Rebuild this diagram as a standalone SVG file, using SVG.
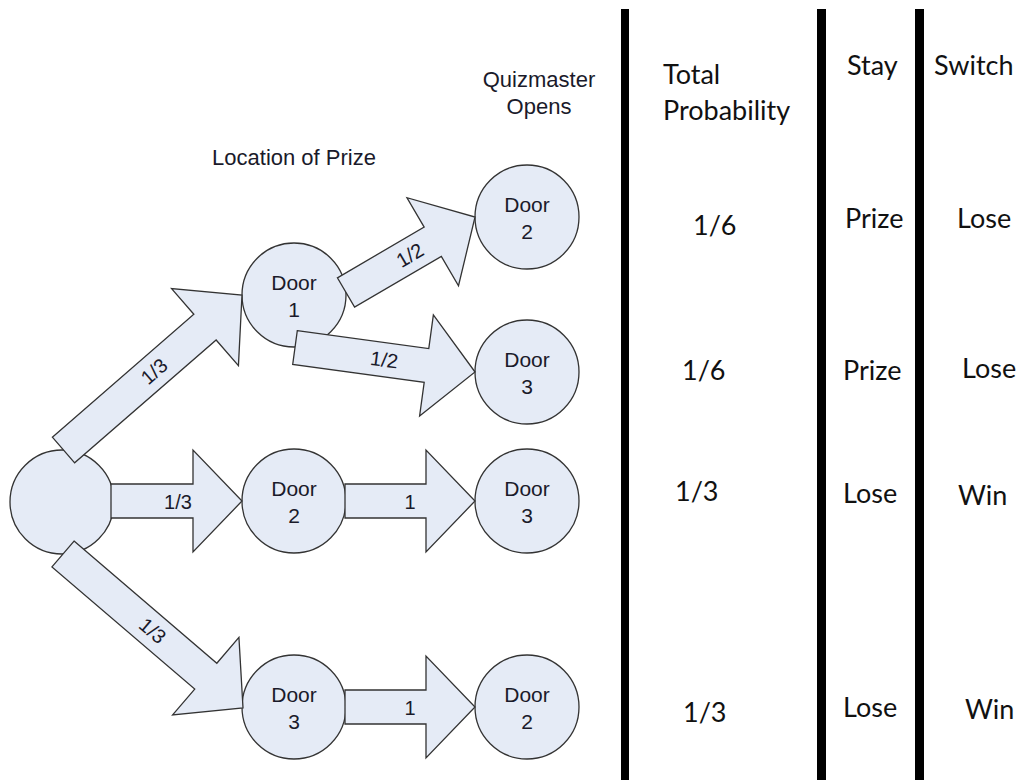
<svg xmlns="http://www.w3.org/2000/svg" width="1019" height="780" viewBox="0 0 1019 780">
<style>
.node{fill:#e5ebf6;stroke:#333;stroke-width:1.3}
.arrow{fill:#e5ebf6;stroke:#333;stroke-width:1.3;stroke-linejoin:miter}
.lbl{font-family:"Liberation Sans",Arial,sans-serif;font-size:21px;fill:#1a1a2a;text-anchor:middle}
.hdr{font-family:"Liberation Sans",Arial,sans-serif;font-size:22px;fill:#1a1a2a;text-anchor:middle}
.elbl{font-family:"Liberation Sans",Arial,sans-serif;font-size:20px;fill:#1a1a2a;text-anchor:middle}
.tbl{font-family:Lato,"Open Sans",sans-serif;font-size:27px;fill:#111}
.bar{fill:#000}
</style>
<rect width="1019" height="780" fill="#fff"/>
<g id="headers">
<text class="hdr" x="294" y="165">Location of Prize</text>
<text class="hdr" x="539" y="87">Quizmaster</text>
<text class="hdr" x="539" y="114">Opens</text>
</g>
<g id="node-start"><circle class="node" cx="62" cy="502" r="52"/></g>
<g id="node-l-door1"><circle class="node" cx="294" cy="295" r="52"/><text class="lbl" x="294" y="290">Door</text><text class="lbl" x="294" y="317">1</text></g>
<g id="node-l-door2"><circle class="node" cx="294" cy="501" r="52"/><text class="lbl" x="294" y="496">Door</text><text class="lbl" x="294" y="523">2</text></g>
<g id="node-l-door3"><circle class="node" cx="294" cy="707" r="52"/><text class="lbl" x="294" y="702">Door</text><text class="lbl" x="294" y="729">3</text></g>
<g id="node-r-door2a"><circle class="node" cx="527" cy="217" r="52"/><text class="lbl" x="527" y="212">Door</text><text class="lbl" x="527" y="239">2</text></g>
<g id="node-r-door3a"><circle class="node" cx="527" cy="372" r="52"/><text class="lbl" x="527" y="367">Door</text><text class="lbl" x="527" y="394">3</text></g>
<g id="node-r-door3b"><circle class="node" cx="527" cy="501" r="52"/><text class="lbl" x="527" y="496">Door</text><text class="lbl" x="527" y="523">3</text></g>
<g id="node-r-door2b"><circle class="node" cx="527" cy="707" r="52"/><text class="lbl" x="527" y="702">Door</text><text class="lbl" x="527" y="729">2</text></g>
<g id="connectors">
<g transform="translate(63.5,450) rotate(-40.97)"><polygon class="arrow" points="0,-17 187.4,-17 187.4,-51 236.4,0 187.4,51 187.4,17 0,17"/><text class="elbl" x="120" y="7">1/3</text></g>
<g transform="translate(111,501)"><polygon class="arrow" points="0,-17 82,-17 82,-51 131,0 82,51 82,17 0,17"/><text class="elbl" x="67" y="8">1/3</text></g>
<g transform="translate(345,501)"><polygon class="arrow" points="0,-17 81,-17 81,-51 130,0 81,51 81,17 0,17"/><text class="elbl" x="65" y="8">1</text></g>
<g transform="translate(345,707)"><polygon class="arrow" points="0,-17 81,-17 81,-51 130,0 81,51 81,17 0,17"/><text class="elbl" x="65" y="8">1</text></g>
<g transform="translate(63,554) rotate(40.55)"><polygon class="arrow" points="0,-17 187.9,-17 187.9,-51 236.9,0 187.9,51 187.9,17 0,17"/><text class="elbl" x="118" y="7">1/3</text></g>
<g transform="translate(346,292.5) rotate(-30.33)"><polygon class="arrow" points="0,-17 100.5,-17 100.5,-51 149.5,0 100.5,51 100.5,17 0,17"/><text class="elbl" x="74" y="7">1/2</text></g>
<g transform="translate(295,347.5) rotate(7.75)"><polygon class="arrow" points="0,-17 132.7,-17 132.7,-51 181.7,0 132.7,51 132.7,17 0,17"/><text class="elbl" x="90" y="7">1/2</text></g>
</g>
<g id="table">
<rect class="bar" x="621" y="9" width="8" height="771"/>
<rect class="bar" x="817" y="9" width="9" height="771"/>
<rect class="bar" x="915" y="9" width="9" height="771"/>
<text class="tbl" x="663" y="84">Total</text>
<text class="tbl" x="663" y="120">Probability</text>
<text class="tbl" x="847" y="75">Stay</text>
<text class="tbl" x="934" y="75">Switch</text>
<text class="tbl" x="693" y="235">1/6</text>
<text class="tbl" x="845" y="228">Prize</text>
<text class="tbl" x="957" y="228">Lose</text>
<text class="tbl" x="682" y="380">1/6</text>
<text class="tbl" x="843" y="380">Prize</text>
<text class="tbl" x="962" y="378">Lose</text>
<text class="tbl" x="675" y="501">1/3</text>
<text class="tbl" x="843" y="503">Lose</text>
<text class="tbl" x="958" y="505">Win</text>
<text class="tbl" x="683" y="722">1/3</text>
<text class="tbl" x="843" y="717">Lose</text>
<text class="tbl" x="965" y="719">Win</text>
</g>
</svg>
